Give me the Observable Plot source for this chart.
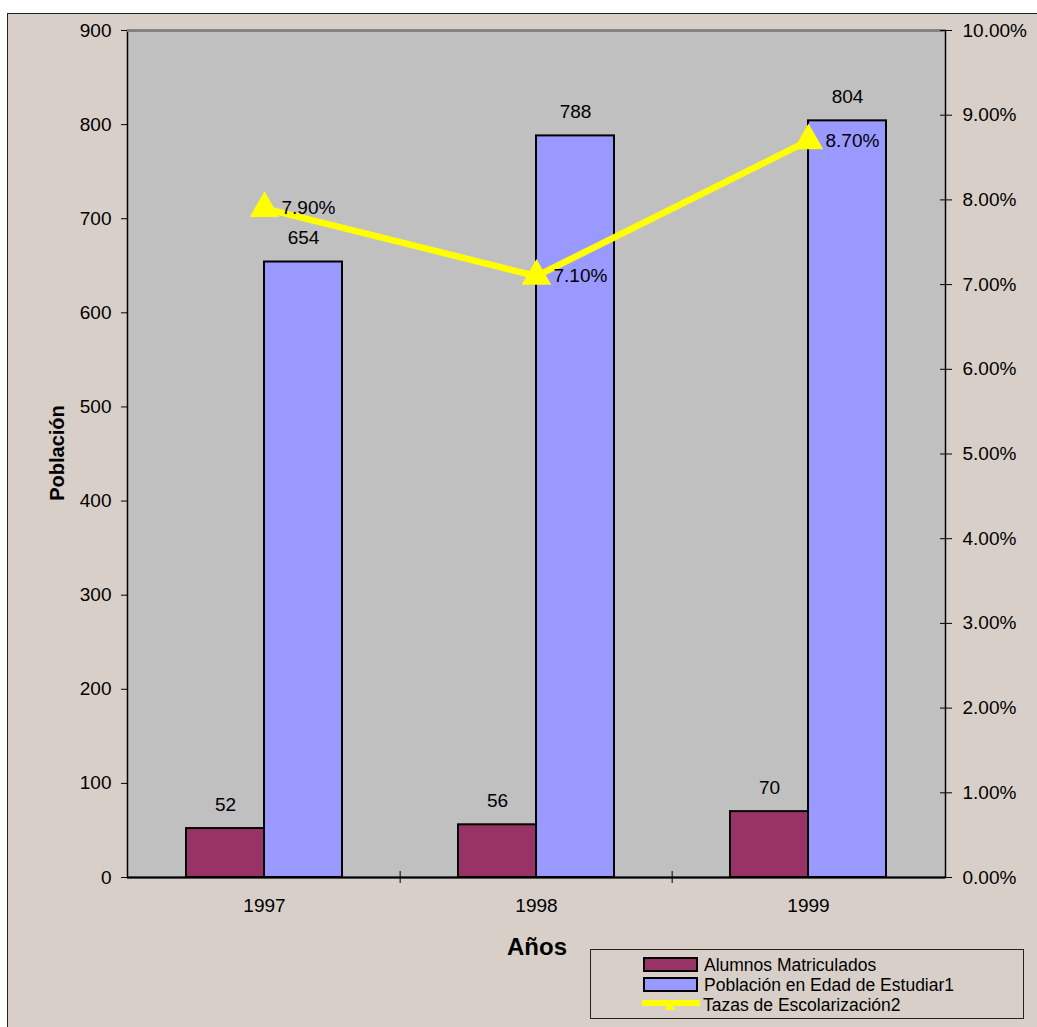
<!DOCTYPE html>
<html>
<head>
<meta charset="utf-8">
<script src="https://cdn.jsdelivr.net/npm/d3@7"></script>
<script src="https://cdn.jsdelivr.net/npm/@observablehq/plot@0.6"></script>
<style>
  body { margin: 0; background: #ffffff; }
  #wrap { position: relative; width: 1037px; height: 1027px; overflow: hidden; font-family: "Liberation Sans", Arial, sans-serif; }
  #outer { position: absolute; left: 7px; top: 13px; width: 1100px; height: 1100px; border: 1.5px solid #222; background: #D8D0C8; }
  #chart { position: absolute; left: 0; top: 0; }
  #ytitle { position: absolute; left: 57px; top: 453px; transform: translate(-50%, -50%) rotate(-90deg); font-weight: bold; font-size: 20px; white-space: nowrap; }
  #xtitle { position: absolute; left: 537px; top: 947px; transform: translate(-50%, -50%); font-weight: bold; font-size: 24px; white-space: nowrap; }
  #legend { position: absolute; left: 590px; top: 949px; width: 434px; height: 70px; border: 1px solid #222; box-sizing: border-box; }
  .row { position: absolute; left: 52px; height: 20px; line-height: 20px; font-size: 17.5px; white-space: nowrap; display: flex; align-items: center; }
  .sw { width: 51px; height: 11px; border: 2px solid #000; margin-right: 6px; }
  .lsw { width: 60px; height: 19px; margin-right: 2px; margin-left: -2px; }
</style>
</head>
<body>
<div id="wrap">
  <div id="outer"></div>
  <div id="chart"></div>
  <div id="ytitle">Población</div>
  <div id="xtitle">Años</div>
  <div id="legend"></div>
</div>
<script>
// ---- data ----
const years = ["1997", "1998", "1999"];
const alumnos = [52, 56, 70];
const poblacion = [654, 788, 804];
const tasas = [0.079, 0.071, 0.087];
const tasaLabels = ["7.90%", "7.10%", "8.70%"];
const leftTicks = [0, 100, 200, 300, 400, 500, 600, 700, 800, 900];
const rightTickLabels = ["0.00%", "1.00%", "2.00%", "3.00%", "4.00%", "5.00%", "6.00%", "7.00%", "8.00%", "9.00%", "10.00%"];
const rightTickValues = [0, 0.01, 0.02, 0.03, 0.04, 0.05, 0.06, 0.07, 0.08, 0.09, 0.10];
const seriesNames = ["Alumnos Matriculados", "Población en Edad de Estudiar1", "Tazas de Escolarización2"];
const colors = ["#993366", "#9999FF", "#FFFF00"];

// right axis maps 0..10% onto left 0..900
const rateToLeft = 900 / 0.10;

const data = years.map((year, i) => ({
  year, alumnos: alumnos[i], poblacion: poblacion[i], tasa: tasas[i], tasaLabel: tasaLabels[i]
}));

const W = 1037, H = 1027, mL = 127, mR = 92, mT = 30, mB = 150;
const step = (W - mL - mR) / years.length;
const halfBar = 78;

const chart = Plot.plot({
  width: W, height: H,
  marginLeft: mL, marginRight: mR, marginTop: mT, marginBottom: mB,
  style: { background: "transparent", fontFamily: "'Liberation Sans', Arial, sans-serif", fontSize: "19px", color: "#000" },
  x: { domain: years, paddingInner: 0.428, paddingOuter: 0.214, label: null },
  y: { domain: [0, 900], label: null },
  marks: [
    Plot.frame({ fill: "#C0C0C0", stroke: "#000", strokeWidth: 1.5 }),
    Plot.ruleY([900], { stroke: "#808080", strokeWidth: 2.5 }),
    Plot.barY(data, { x: "year", y: "alumnos", fill: colors[0], stroke: "#000", strokeWidth: 2, insetRight: halfBar }),
    Plot.barY(data, { x: "year", y: "poblacion", fill: colors[1], stroke: "#000", strokeWidth: 2, insetLeft: halfBar }),
    Plot.ruleY([0], { stroke: "#000", strokeWidth: 2 }),
    Plot.ruleX(years.slice(1), { x: d => d, dx: -step / 2, y1: 0, y2: 0, insetTop: -6, insetBottom: -6, stroke: "#000" }),
    Plot.axisY({ anchor: "left", ticks: leftTicks, tickSize: 6, tickPadding: 10, label: null, stroke: "#000" }),
    Plot.axisY({ anchor: "right", ticks: rightTickValues.map(v => v * rateToLeft),
      tickFormat: d => rightTickLabels[Math.round(d / (0.01 * rateToLeft))], tickSize: 6, tickPadding: 11, label: null }),
    Plot.axisY({ anchor: "right", ticks: rightTickValues.map(v => v * rateToLeft), tickSize: -6, tickFormat: () => "", label: null }),
    Plot.axisX({ tickSize: 0, tickPadding: 21, label: null }),
    Plot.text(data, { x: "year", y: "alumnos", text: d => String(d.alumnos), dx: -halfBar / 2, dy: -24, fontSize: 19 }),
    Plot.text(data, { x: "year", y: "poblacion", text: d => String(d.poblacion), dx: halfBar / 2, dy: -24, fontSize: 19 }),
    Plot.line(data, { x: "year", y: d => d.tasa * rateToLeft, stroke: colors[2], strokeWidth: 6.5 }),
    Plot.dot(data, { x: "year", y: d => d.tasa * rateToLeft, symbol: "triangle", r: 11, fill: colors[2], stroke: "none" }),
    Plot.text(data, { x: "year", y: d => d.tasa * rateToLeft, text: "tasaLabel", dx: 17, textAnchor: "start", fontSize: 19 })
  ]
});
document.getElementById("chart").appendChild(chart);

// ---- legend ----
const legend = document.getElementById("legend");
const rowTops = [4.5, 24.5, 44.5];
seriesNames.forEach((name, i) => {
  const row = document.createElement("div");
  row.className = "row";
  row.style.top = rowTops[i] + "px";
  let sw;
  if (i < 2) {
    sw = document.createElement("span");
    sw.className = "sw";
    sw.style.background = colors[i];
  } else {
    sw = document.createElementNS("http://www.w3.org/2000/svg", "svg");
    sw.setAttribute("class", "lsw");
    sw.setAttribute("viewBox", "0 0 60 19");
    sw.innerHTML = `<line x1="1" x2="59" y1="8" y2="8" stroke="${colors[2]}" stroke-width="6"/>` +
      `<polygon points="29,4 24,15 34,15" fill="${colors[2]}"/>`;
  }
  row.appendChild(sw);
  const t = document.createElement("span");
  t.textContent = name;
  row.appendChild(t);
  legend.appendChild(row);
});
</script>
</body>
</html>
